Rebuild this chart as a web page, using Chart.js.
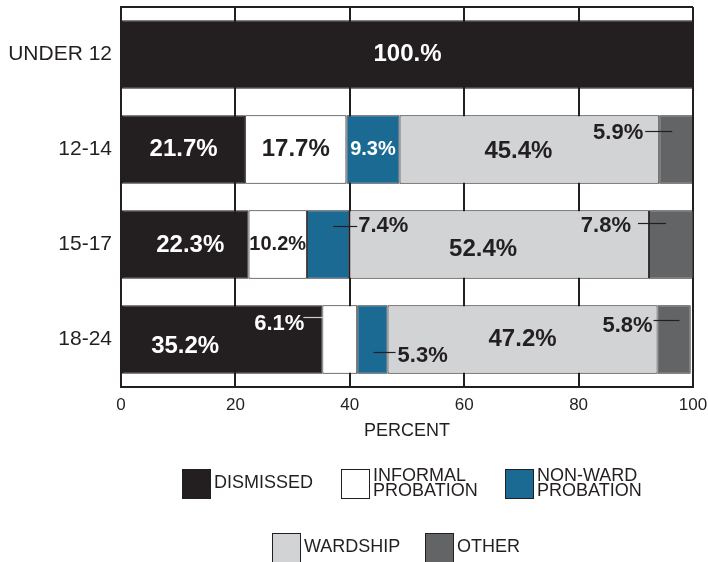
<!DOCTYPE html>
<html>
<head>
<meta charset="utf-8">
<title>Disposition by age group</title>
<script src="https://cdn.jsdelivr.net/npm/chart.js@4.4.0/dist/chart.umd.min.js"></script>
<style>
  html, body { margin: 0; padding: 0; background: #fff; }
  #wrap { width: 708px; height: 562px; }
</style>
</head>
<body>
<div id="wrap"><canvas id="chart" width="708" height="562"></canvas></div>
<script>
// --- Data ---
const ageGroups = ['UNDER 12', '12-14', '15-17', '18-24'];
const seriesNames = ['DISMISSED', 'INFORMAL PROBATION', 'NON-WARD PROBATION', 'WARDSHIP', 'OTHER'];
const dismissed = [100, 21.7, 22.3, 35.2];
const informalProbation = [null, 17.7, 10.2, 6.1];
const nonWardProbation = [null, 9.3, 7.4, 5.3];
const wardship = [null, 45.4, 52.4, 47.2];
const other = [null, 5.9, 7.8, 5.8];
const percentTicks = [0, 20, 40, 60, 80, 100];
const legendText = [['DISMISSED'], ['INFORMAL', 'PROBATION'], ['NON-WARD', 'PROBATION'], ['WARDSHIP'], ['OTHER']];

// --- Styles ---
const INK = '#231f20';
const FONT = '"Liberation Sans", Arial, Helvetica, sans-serif';
const fills = ['#231f20', '#ffffff', '#1b6a93', '#d1d3d4', '#636466'];
const labelColors = ['#ffffff', INK, '#ffffff', INK, INK];

// label placement for the small segments (keyed "category,series")
const labelSpecs = {
  '1,2': { size: 20 },
  '1,3': { dx: -11, dy: 2 },
  '1,4': { from: 'left', tx: -16, ty: -17, align: 'right', line: [-14, 13, -18], size: 22 },
  '2,0': { dx: 5, dy: 1 },
  '2,1': { size: 20 },
  '2,2': { from: 'right', tx: 9, ty: -19, align: 'left', line: [-16, 8, -18], size: 22 },
  '2,3': { dx: -16, dy: 5 },
  '2,4': { from: 'left', tx: -18, ty: -19, align: 'right', line: [-11, 17, -21], size: 22 },
  '3,0': { dx: -37, dy: 7 },
  '3,1': { from: 'left', tx: -18, ty: -16, align: 'right', line: [-19, 1, -22], size: 22, color: '#ffffff', lineColor: '#cfcfcf' },
  '3,2': { from: 'right', tx: 10, ty: 16, align: 'left', line: [-14, 8, 13], size: 22 },
  '3,4': { from: 'left', tx: -5, ty: -14, align: 'right', line: [-4, 22, -19], size: 22 }
};

// legend layout: [x, y] of each box
const legendBoxes = [[182, 469], [341, 469], [505, 469], [272, 533], [425, 533]];

function fmt(v) {
  return v === 100 ? '100.%' : v.toFixed(1) + '%';
}

// --- Plugins ---
const frame = {
  id: 'frame',
  beforeDatasetsDraw(chart) {
    const { ctx, chartArea: a } = chart;
    ctx.save();
    ctx.strokeStyle = INK;
    ctx.lineWidth = 2;
    ctx.beginPath();
    ctx.moveTo(a.left, a.top);
    ctx.lineTo(a.right, a.top);
    ctx.stroke();
    ctx.restore();
  }
};

const valueLabels = {
  id: 'valueLabels',
  afterDatasetsDraw(chart) {
    const ctx = chart.ctx;
    ctx.save();
    chart.data.datasets.forEach((ds, i) => {
      const meta = chart.getDatasetMeta(i);
      ds.data.forEach((v, j) => {
        if (v == null) return;
        const el = meta.data[j];
        const left = Math.min(el.base, el.x);
        const right = Math.max(el.base, el.x);
        const spec = labelSpecs[j + ',' + i] || {};
        const size = spec.size || 24;
        ctx.font = 'bold ' + size + 'px ' + FONT;
        ctx.textBaseline = 'middle';
        ctx.fillStyle = spec.color || (spec.from ? INK : labelColors[i]);
        if (spec.from) {
          const ref = spec.from === 'left' ? left : right;
          if (spec.line) {
            ctx.strokeStyle = spec.lineColor || INK;
            ctx.lineWidth = 1.2;
            ctx.beginPath();
            ctx.moveTo(ref + spec.line[0], el.y + spec.line[2]);
            ctx.lineTo(ref + spec.line[1], el.y + spec.line[2]);
            ctx.stroke();
          }
          ctx.textAlign = spec.align;
          ctx.fillText(fmt(v), ref + spec.tx, el.y + spec.ty);
        } else {
          ctx.textAlign = 'center';
          ctx.fillText(fmt(v), (left + right) / 2 + (spec.dx || 0), el.y + (spec.dy || 0));
        }
      });
    });
    ctx.restore();
  }
};

const boxLegend = {
  id: 'boxLegend',
  afterDraw(chart) {
    const ctx = chart.ctx;
    ctx.save();
    ctx.font = '18px ' + FONT;
    ctx.textAlign = 'left';
    ctx.textBaseline = 'middle';
    legendBoxes.forEach(([x, y], i) => {
      const w = 28, h = 29;
      ctx.fillStyle = fills[i];
      ctx.fillRect(x, y, w, h);
      ctx.strokeStyle = INK;
      ctx.lineWidth = 1;
      ctx.strokeRect(x + 0.5, y + 0.5, w, h);
      ctx.fillStyle = INK;
      const lines = legendText[i];
      const cy = y + h / 2;
      lines.forEach((t, k) => {
        const off = lines.length === 1 ? 0 : (k === 0 ? -7 : 8);
        ctx.fillText(t, x + w + 4, cy + off);
      });
    });
    ctx.restore();
  }
};

// --- Chart ---
const seriesData = [dismissed, informalProbation, nonWardProbation, wardship, other];

new Chart(document.getElementById('chart'), {
  type: 'bar',
  data: {
    labels: ageGroups,
    datasets: seriesData.map((d, i) => ({
      label: seriesNames[i],
      data: d,
      backgroundColor: fills[i],
      borderColor: INK,
      borderWidth: 1,
      borderSkipped: false,
      barPercentage: 0.72,
      categoryPercentage: 1
    }))
  },
  options: {
    indexAxis: 'y',
    responsive: false,
    animation: false,
    layout: { padding: { top: 7, right: 15, bottom: 120, left: 0 } },
    plugins: {
      legend: { display: false },
      tooltip: { enabled: false }
    },
    scales: {
      x: {
        stacked: true,
        min: 0,
        max: 100,
        afterBuildTicks(scale) {
          scale.ticks = percentTicks.map(v => ({ value: v }));
        },
        afterFit(scale) {
          scale.height = 55;
          scale.paddingLeft = 0;
          scale.paddingRight = 0;
        },
        grid: { color: INK, lineWidth: 2, drawTicks: false },
        border: { display: true, color: INK, width: 2 },
        ticks: { color: INK, padding: 8, font: { family: FONT, size: 17 } },
        title: {
          display: true,
          text: 'PERCENT',
          color: INK,
          padding: 0,
          font: { family: FONT, size: 18 }
        }
      },
      y: {
        stacked: true,
        afterFit(scale) {
          scale.width = 121;
          scale.paddingTop = 0;
          scale.paddingBottom = 0;
        },
        grid: { display: false, drawTicks: false },
        border: { display: true, color: INK, width: 2 },
        ticks: { color: INK, padding: 9, font: { family: FONT, size: 21 } }
      }
    }
  },
  plugins: [frame, valueLabels, boxLegend]
});
</script>
</body>
</html>
